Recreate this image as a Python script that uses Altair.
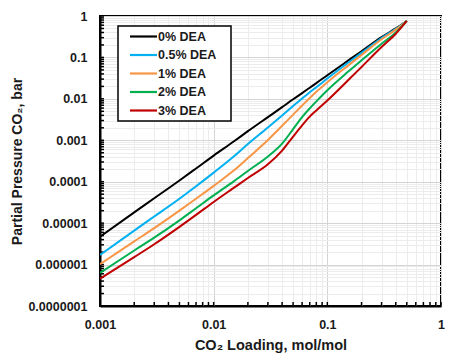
import altair as alt
import pandas as pd

# ---- data ----
loading = [0.001, 0.002, 0.003, 0.005, 0.007, 0.01, 0.015, 0.02, 0.03, 0.04,
           0.05, 0.06, 0.07, 0.08, 0.1, 0.15, 0.2, 0.3, 0.4, 0.5]

p_0 = [4.68e-6, 1.82e-5, 3.98e-5, 1.07e-4, 2.09e-4, 4.27e-4, 9.33e-4, 1.66e-3, 3.63e-3, 6.31e-3,
       9.77e-3, 1.38e-2, 1.86e-2, 2.40e-2, 3.72e-2, 8.13e-2, 0.141, 0.309, 0.501, 0.759]
p_05 = [1.70e-6, 6.61e-6, 1.45e-5, 3.89e-5, 7.76e-5, 1.66e-4, 4.07e-4, 8.13e-4, 2.04e-3, 3.98e-3,
        6.76e-3, 1.02e-2, 1.45e-2, 1.91e-2, 3.09e-2, 7.24e-2, 0.129, 0.295, 0.490, 0.759]
p_1 = [1.02e-6, 3.63e-6, 7.59e-6, 2.00e-5, 3.89e-5, 7.94e-5, 1.86e-4, 3.72e-4, 1.02e-3, 2.24e-3,
       4.17e-3, 6.92e-3, 1.05e-2, 1.48e-2, 2.51e-2, 6.17e-2, 0.115, 0.275, 0.468, 0.759]
p_2 = [6.31e-7, 2.19e-6, 4.47e-6, 1.17e-5, 2.29e-5, 4.68e-5, 1.02e-4, 1.82e-4, 4.07e-4, 8.32e-4,
       1.86e-3, 3.63e-3, 5.89e-3, 8.71e-3, 1.62e-2, 4.37e-2, 8.51e-2, 0.214, 0.398, 0.759]
p_3 = [4.57e-7, 1.51e-6, 3.09e-6, 8.13e-6, 1.58e-5, 3.24e-5, 7.08e-5, 1.23e-4, 2.63e-4, 5.62e-4,
       1.23e-3, 2.29e-3, 3.72e-3, 5.25e-3, 9.12e-3, 2.69e-2, 5.89e-2, 0.178, 0.372, 0.759]

series_names = ["0% DEA", "0.5% DEA", "1% DEA", "2% DEA", "3% DEA"]
series_values = [p_0, p_05, p_1, p_2, p_3]
series_colors = ["#000000", "#00B0F0", "#F79646", "#00B050", "#C00000"]

x_ticks = [m * 10.0 ** e for e in (-3, -2, -1) for m in range(1, 10)] + [1.0]
y_ticks = [m * 10.0 ** e for e in range(-7, 0) for m in range(1, 10)] + [1.0]

rows = []
for name, vals in zip(series_names, series_values):
    for xv, yv in zip(loading, vals):
        rows.append({"loading": xv, "pressure": yv, "series": name})
df = pd.DataFrame(rows)

W, H = 341, 290
FONT = "Liberation Sans"
TXT = "#1a1a1a"
is_decade = "abs(log(datum.value)/LN10 - round(log(datum.value)/LN10)) < 0.001"

x_scale = alt.Scale(type="log", domain=[0.001, 1], nice=False)
y_scale = alt.Scale(type="log", domain=[1e-7, 1], nice=False)

x_axis = alt.Axis(
    values=x_ticks, grid=True, ticks=False,
    gridColor=alt.condition(is_decade, alt.value("#d4d4d4"), alt.value("#ececec")),
    labelExpr=f"{is_decade} ? format(datum.value, '.3~f') : ''",
    labelFont=FONT, labelFontSize=12.5, labelFontWeight="bold", labelColor=TXT,
    labelPadding=12, labelOverlap=False, labelFlush=False,
    domainColor="black", domainWidth=2,
    title="CO₂ Loading, mol/mol", titleFont=FONT, titleFontSize=14.5,
    titleFontWeight="bold", titleColor=TXT, titlePadding=8,
)
y_axis = alt.Axis(
    values=y_ticks, grid=True, ticks=False,
    gridColor=alt.condition(is_decade, alt.value("#d4d4d4"), alt.value("#ececec")),
    labelExpr=f"{is_decade} ? format(datum.value, '.7~f') : ''",
    labelFont=FONT, labelFontSize=12.5, labelFontWeight="bold", labelColor=TXT,
    labelPadding=13, labelOverlap=False, labelFlush=False,
    domainColor="black", domainWidth=2,
    title="Partial Pressure CO₂, bar", titleFont=FONT, titleFontSize=14,
    titleFontWeight="bold", titleColor=TXT, titlePadding=3,
)

legend = alt.Legend(
    orient="none", legendX=18, legendY=10, title=None,
    symbolType="M-2.7,0H2.7", symbolSize=100, symbolStrokeWidth=2.2,
    symbolOffset=15, labelOffset=8,
    labelFont=FONT, labelFontSize=12.5, labelFontWeight="bold", labelColor=TXT,
    labelExpr="datum.label + '\u2800'",
    padding=4, rowPadding=5.5,
    strokeColor="black", fillColor="white",
)

xt = alt.Chart(pd.DataFrame({"loading": x_ticks})).mark_rule(
    color="black", strokeWidth=1.5).encode(
    x=alt.X("loading:Q", scale=x_scale, axis=x_axis),
    y=alt.value(H), y2=alt.value(H - 4),
)
yt = alt.Chart(pd.DataFrame({"pressure": y_ticks})).mark_rule(color="black", strokeWidth=1.5).encode(
    y=alt.Y("pressure:Q", scale=y_scale, axis=y_axis),
    x=alt.value(0), x2=alt.value(4),
)
lines = alt.Chart(df).mark_line(strokeWidth=2, interpolate="monotone", clip=True).encode(
    x=alt.X("loading:Q", scale=x_scale, axis=x_axis),
    y=alt.Y("pressure:Q", scale=y_scale, axis=y_axis),
    color=alt.Color("series:N", scale=alt.Scale(domain=series_names, range=series_colors),
                    legend=legend, sort=series_names),
)

chart = alt.layer(xt, yt, lines).properties(
    width=W, height=H,
    autosize=alt.AutoSizeParams(type="none"),
    padding={"left": 92, "top": 8, "right": 4, "bottom": 50},
).configure_view(stroke="black", strokeWidth=2).configure_legend(strokeWidth=1.5)

chart.save("out.html", embed_options={"renderer": "svg", "actions": False})
